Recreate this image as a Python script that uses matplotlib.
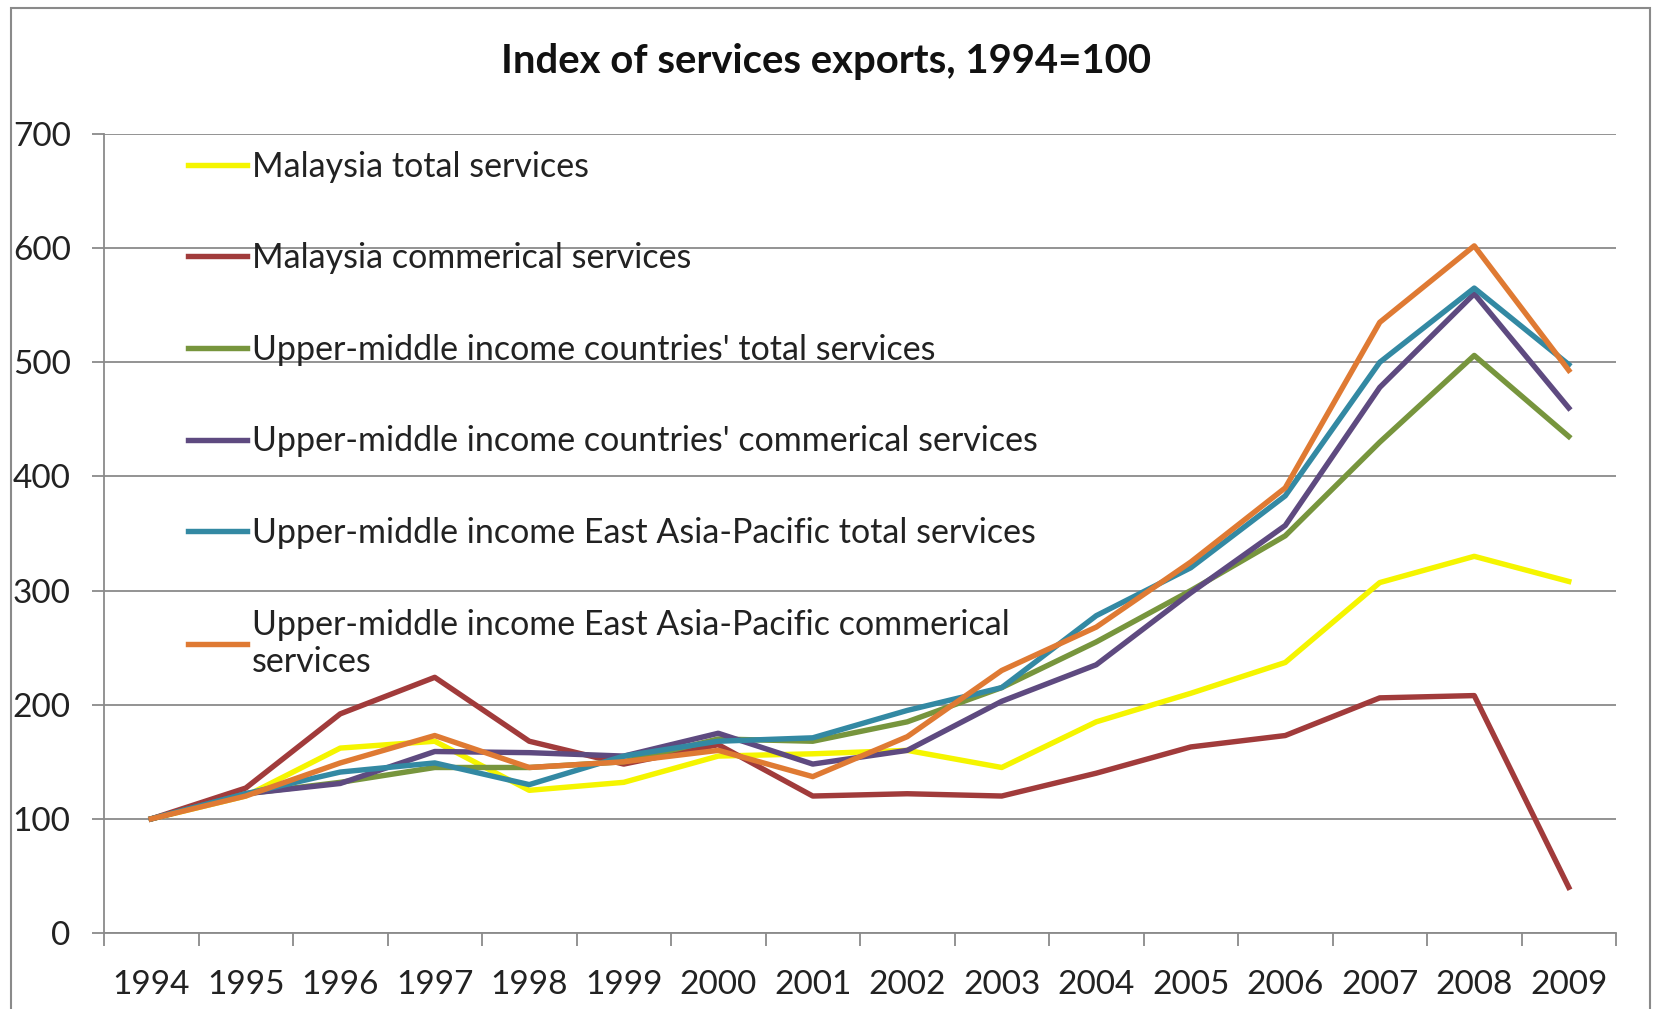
import numpy as np
import matplotlib
matplotlib.use("Agg")
import matplotlib.pyplot as plt  # noqa: E402
from matplotlib.patches import Rectangle  # noqa: E402

plt.rcParams["font.family"] = ["Lato", "DejaVu Sans"]

years = [str(y) for y in range(1994, 2010)]

# index values, 1994 = 100
my_total = [100, 120, 162, 168, 125, 132, 155, 157, 160, 145, 185, 210, 237, 307, 330, 308]
my_commercial = [100, 127, 192, 224, 168, 148, 165, 120, 122, 120, 140, 163, 173, 206, 208, 40]
umi_total = [100, 122, 132, 145, 145, 150, 170, 168, 185, 215, 255, 300, 348, 430, 506, 435]
umi_commercial = [100, 122, 131, 159, 158, 155, 175, 148, 160, 203, 235, 298, 357, 478, 560, 460]
eap_total = [100, 122, 141, 149, 130, 155, 168, 171, 195, 215, 278, 320, 383, 500, 565, 498]
eap_commercial = [100, 120, 149, 173, 145, 150, 160, 137, 172, 230, 268, 325, 390, 535, 602, 493]

series = [
    ("Malaysia total services", my_total, "#F5F500"),
    ("Malaysia commerical services", my_commercial, "#A13B3B"),
    ("Upper-middle income countries' total services", umi_total, "#77953D"),
    ("Upper-middle income countries' commerical services", umi_commercial, "#5E4A80"),
    ("Upper-middle income East Asia-Pacific total services", eap_total, "#3389A3"),
    ("Upper-middle income East Asia-Pacific commerical\nservices", eap_commercial, "#DF7A33"),
]

fig = plt.figure(figsize=(16.53, 10.09), dpi=100)
ax = fig.add_axes([104 / 1653, 1 - 933 / 1009, (1616 - 104) / 1653, (933 - 134) / 1009])

x = np.arange(len(years))
for label, vals, color in series:
    ax.plot(x, vals, color=color, lw=3.9, label=label, solid_joinstyle="round")

ax.set_xlim(-0.5, len(years) - 0.5)
ax.set_ylim(0, 700)
ax.set_yticks(range(0, 701, 100))
ax.yaxis.grid(True, color="#8A8A8A", lw=1.3)
ax.set_axisbelow(True)

ax.set_xticks(x)
ax.set_xticklabels(years)
ax.set_xticks(np.arange(-0.5, len(years)), minor=True)
ax.tick_params(axis="x", which="major", length=0, pad=27, labelsize=24, colors="#222222")
ax.tick_params(axis="x", which="minor", length=9, width=1.3, color="#8A8A8A", direction="out")
ax.tick_params(axis="y", length=9, width=1.3, color="#8A8A8A", pad=15, labelsize=24,
               labelcolor="#222222")

for s in ("top", "right"):
    ax.spines[s].set_visible(False)
for s in ("left", "bottom"):
    ax.spines[s].set_color("#8A8A8A")
    ax.spines[s].set_linewidth(1.3)

leg = ax.legend(loc="upper left", bbox_to_anchor=(0.0553, 0.979), frameon=False,
                fontsize=24.5, handlelength=1.75, handletextpad=0.15, labelspacing=1.75,
                borderaxespad=0, borderpad=0)
for t in leg.get_texts():
    t.set_color("#222222")

fig.text(0.5, 1 - 61 / 1009, "Index of services exports, 1994=100", ha="center", va="center",
         fontsize=28.8, fontweight="bold", color="#111111")

fig.patches.append(Rectangle((11 / 1653, -0.01), (1650 - 11) / 1653, 1.01 - 8 / 1009,
                             transform=fig.transFigure, fill=False, edgecolor="#8A8A8A", lw=1.5))

fig.savefig("out.png", dpi=100, facecolor="white")
